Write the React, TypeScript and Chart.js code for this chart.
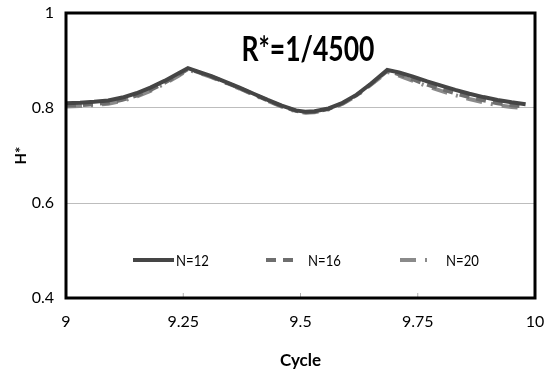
import React, { useEffect, useRef } from "react";
import { Chart, registerables } from "chart.js";

Chart.register(...registerables);

const cycle = [
  9.0, 9.03, 9.06, 9.09, 9.12, 9.15, 9.18, 9.21, 9.24, 9.26, 9.28, 9.31, 9.34, 9.37, 9.4, 9.43, 9.46, 9.49,
  9.51, 9.53, 9.56, 9.59, 9.62, 9.65, 9.685, 9.71, 9.74, 9.77, 9.8, 9.83, 9.86, 9.89, 9.92, 9.95, 9.98,
];

const n12 = [
  0.81, 0.811, 0.813, 0.816, 0.822, 0.831, 0.843, 0.857, 0.873, 0.884, 0.877, 0.867, 0.855, 0.843, 0.83, 0.817,
  0.805, 0.795, 0.792, 0.793, 0.799, 0.811, 0.828, 0.851, 0.88, 0.875, 0.866, 0.856, 0.847, 0.838, 0.83, 0.823,
  0.817, 0.812, 0.808,
];

const n16 = [
  0.806, 0.806, 0.808, 0.811, 0.817, 0.826, 0.838, 0.853, 0.87, 0.882, 0.876, 0.866, 0.854, 0.842, 0.829, 0.816,
  0.804, 0.794, 0.791, 0.792, 0.798, 0.81, 0.827, 0.85, 0.878, 0.871, 0.86, 0.849, 0.84, 0.831, 0.823, 0.816,
  0.81, 0.806, 0.803,
];

const n20 = [
  0.803, 0.804, 0.806, 0.809, 0.815, 0.824, 0.836, 0.851, 0.868, 0.88, 0.875, 0.865, 0.853, 0.841, 0.828, 0.815,
  0.803, 0.793, 0.79, 0.791, 0.797, 0.809, 0.826, 0.849, 0.876, 0.868, 0.857, 0.846, 0.836, 0.827, 0.819, 0.812,
  0.806, 0.802, 0.8,
];

const seriesNames = ["N=12", "N=16", "N=20"];
const chartTitle = "R*=1/4500";
const xTitle = "Cycle";
const yTitle = "H*";
const xTickLabels: Record<string, string> = { "9": "9", "9.25": "9.25", "9.5": "9.5", "9.75": "9.75", "10": "10" };
const yTickLabels: Record<string, string> = { "0.4": "0.4", "0.6": "0.6", "0.8": "0.8", "1": "1" };

const FONT = "Lato, 'Open Sans', sans-serif";

function narrowText(ctx: any, text: string, x: number, y: number, sx: number, align: string) {
  ctx.save();
  ctx.translate(x, y);
  ctx.scale(sx, 1);
  ctx.textAlign = align;
  ctx.fillText(text, 0, 0);
  ctx.restore();
}

const framePlugin = {
  id: "frame",
  afterDatasetsDraw(chart: any) {
    const { ctx, chartArea: a, scales } = chart;
    ctx.save();
    ctx.strokeStyle = "#b0b0b0";
    ctx.lineWidth = 1;
    scales.x.ticks.forEach((t: any) => {
      const px = scales.x.getPixelForValue(t.value);
      ctx.beginPath();
      ctx.moveTo(px, a.bottom);
      ctx.lineTo(px, a.bottom - 5);
      ctx.stroke();
    });
    ctx.strokeStyle = "#000";
    ctx.lineWidth = 3;
    ctx.strokeRect(a.left, a.top, a.right - a.left, a.bottom - a.top);
    ctx.fillStyle = "#000";
    ctx.font = `bold 34px ${FONT}`;
    ctx.textBaseline = "middle";
    narrowText(ctx, chartTitle, scales.x.getPixelForValue(9.516), scales.y.getPixelForValue(0.922), 0.78, "center");
    const ly = scales.y.getPixelForValue(0.48);
    const items = [
      { x0: 133, x1: 174 },
      { x0: 266, x1: 298 },
      { x0: 400, x1: 436 },
    ];
    chart.data.datasets.forEach((ds: any, i: number) => {
      const it = items[i];
      ctx.strokeStyle = ds.borderColor;
      ctx.lineWidth = ds.borderWidth;
      ctx.setLineDash(ds.borderDash || []);
      ctx.lineCap = "butt";
      ctx.beginPath();
      ctx.moveTo(it.x0, ly);
      ctx.lineTo(it.x1, ly);
      ctx.stroke();
      ctx.setLineDash([]);
      ctx.fillStyle = "#000";
      ctx.font = `16px ${FONT}`;
      narrowText(ctx, ds.label, it.x1 + (i === 0 ? 2 : 10), ly + 1, 0.82, "left");
    });
    ctx.restore();
  },
};

export default function App() {
  const ref = useRef<HTMLCanvasElement>(null);
  useEffect(() => {
    document.body.style.margin = "0";
    const pts = (ys: number[]) => cycle.map((x, i) => ({ x, y: ys[i] }));
    const chart = new Chart(ref.current!, {
      type: "line",
      data: {
        datasets: [
          { label: seriesNames[0], data: pts(n12), borderColor: "#454545", borderWidth: 4, pointRadius: 0, tension: 0 },
          {
            label: seriesNames[1],
            data: pts(n16),
            borderColor: "#6e6e6e",
            borderWidth: 4,
            borderDash: [10, 7],
            pointRadius: 0,
            tension: 0,
          },
          {
            label: seriesNames[2],
            data: pts(n20),
            borderColor: "#8a8a8a",
            borderWidth: 4,
            borderDash: [16, 9, 2, 9],
            pointRadius: 0,
            tension: 0,
          },
        ],
      },
      options: {
        animation: false,
        responsive: false,
        layout: { padding: { top: 13, right: 15, left: 0, bottom: 0 } },
        plugins: { legend: { display: false }, title: { display: false }, tooltip: { enabled: false } },
        scales: {
          x: {
            type: "linear",
            min: 9,
            max: 10,
            afterFit: (s: any) => {
              s.height = 76;
              s.paddingLeft = 0;
              s.paddingRight = 0;
            },
            ticks: {
              stepSize: 0.25,
              padding: 14,
              color: "#000",
              font: { family: FONT, size: 16 },
              callback: (v: any) => xTickLabels[String(v)] ?? "",
              maxRotation: 0,
            },
            grid: { display: false, drawTicks: false },
            border: { display: false },
            title: {
              display: true,
              text: xTitle,
              color: "#000",
              font: { family: FONT, size: 17, weight: "bold" },
              padding: { top: 0, bottom: 3 },
            },
          },
          y: {
            min: 0.4,
            max: 1,
            afterFit: (s: any) => {
              s.width = 66;
              s.paddingTop = 0;
              s.paddingBottom = 0;
            },
            ticks: {
              stepSize: 0.2,
              padding: 12,
              color: "#000",
              font: { family: FONT, size: 16 },
              callback: (v: any) => yTickLabels[String(Math.round(v * 10) / 10)] ?? "",
            },
            grid: { color: "#bdbdbd", lineWidth: 1, drawTicks: false },
            border: { display: false },
            title: {
              display: true,
              text: yTitle,
              color: "#000",
              font: { family: FONT, size: 15, weight: "bold" },
              padding: { top: 12, bottom: 0 },
            },
          },
        },
      },
      plugins: [framePlugin],
    });
    return () => chart.destroy();
  }, []);
  return (
    <div style={{ width: 550, height: 374 }}>
      <canvas ref={ref} width={550} height={374} />
    </div>
  );
}
